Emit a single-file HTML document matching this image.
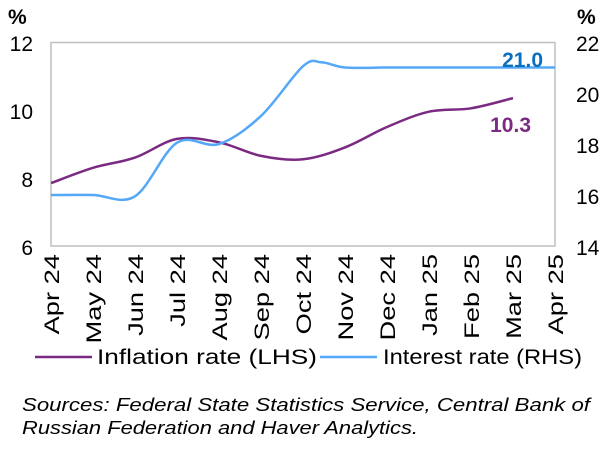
<!DOCTYPE html>
<html><head><meta charset="utf-8"><style>
body{margin:0;background:#fff;width:607px;height:444px;overflow:hidden;font-family:"Liberation Sans",Arial,sans-serif}
</style></head><body>
<svg id="s" width="607" height="444" xmlns="http://www.w3.org/2000/svg" font-family="Liberation Sans, Arial, sans-serif">
<rect x="51" y="42.5" width="504" height="203.5" fill="none" stroke="#bfbfbf" stroke-width="1.5"/>
<g font-size="21" fill="#000">
<text x="8" y="24" font-weight="bold" font-size="21">%</text>
<text x="577" y="24" font-weight="bold" font-size="21">%</text>
<g text-anchor="end">
<text x="33" y="51">12</text><text x="33" y="119">10</text><text x="33" y="187">8</text><text x="33" y="255">6</text>
</g>
<g text-anchor="start">
<text x="576" y="51">22</text><text x="576" y="102">20</text><text x="576" y="153">18</text><text x="576" y="204">16</text><text x="576" y="255">14</text>
</g>
</g>
<g id="xl" font-size="21" text-anchor="end"></g>
<path id="inf" fill="none" stroke="#7b2a82" stroke-width="2.5"/>
<path id="int" fill="none" stroke="#55a7f7" stroke-width="2.5"/>
<text x="543" y="67" font-size="21" font-weight="bold" fill="#0b6fbf" text-anchor="end">21.0</text>
<text x="531" y="132" font-size="21" font-weight="bold" fill="#7b2a82" text-anchor="end">10.3</text>
<line x1="35" y1="357" x2="92" y2="357" stroke="#7b2a82" stroke-width="2.5"/>
<text x="97" y="364" font-size="21" textLength="220" lengthAdjust="spacingAndGlyphs">Inflation rate (LHS)</text>
<line x1="320" y1="357" x2="377" y2="357" stroke="#55a7f7" stroke-width="2.5"/>
<text x="383" y="364" font-size="21" textLength="199" lengthAdjust="spacingAndGlyphs">Interest rate (RHS)</text>
<text x="22" y="411" font-size="18" font-style="italic" textLength="568" lengthAdjust="spacingAndGlyphs">Sources: Federal State Statistics Service, Central Bank of</text>
<text x="22" y="434" font-size="18" font-style="italic" textLength="396" lengthAdjust="spacingAndGlyphs">Russian Federation and Haver Analytics.</text>
</svg>
<script>
var xs=[],m=["Apr 24","May 24","Jun 24","Jul 24","Aug 24","Sep 24","Oct 24","Nov 24","Dec 24","Jan 25","Feb 25","Mar 25","Apr 25"];
var g=document.getElementById('xl'),h='';
for(var i=0;i<13;i++){xs.push(51+42*i);h+='<text transform="translate('+(59+42*i)+',254) rotate(-90) scale(1.3,1)">'+m[i]+'</text>';}
g.innerHTML=h;
function cr(p){var d='M'+p[0][0]+','+p[0][1];for(var i=0;i<p.length-1;i++){var a=p[Math.max(0,i-1)],b=p[i],c=p[i+1],e=p[Math.min(p.length-1,i+2)];
d+=' C'+(b[0]+(c[0]-a[0])/6)+','+(b[1]+(c[1]-a[1])/6)+' '+(c[0]-(e[0]-b[0])/6)+','+(c[1]-(e[1]-b[1])/6)+' '+c[0]+','+c[1];}return d;}
var iv=[7.85,8.3,8.6,9.15,9.05,8.65,8.55,8.9,9.5,9.95,10.05,10.35];
var ip=iv.map(function(v,i){return [xs[i],246-(v-6)*34];});
document.getElementById('inf').setAttribute('d',cr(ip));
var rv=[[51,16],[93,16],[135,15.95],[177,18.05],[219,18],[261,19.1],[303,21.05],[322,21.2],[345,21],[387,21],[429,21],[471,21],[513,21],[555,21]];
var rp=rv.map(function(p){return [p[0],246-(p[1]-14)*25.5];});
document.getElementById('int').setAttribute('d',cr(rp));
</script>
</body></html>
